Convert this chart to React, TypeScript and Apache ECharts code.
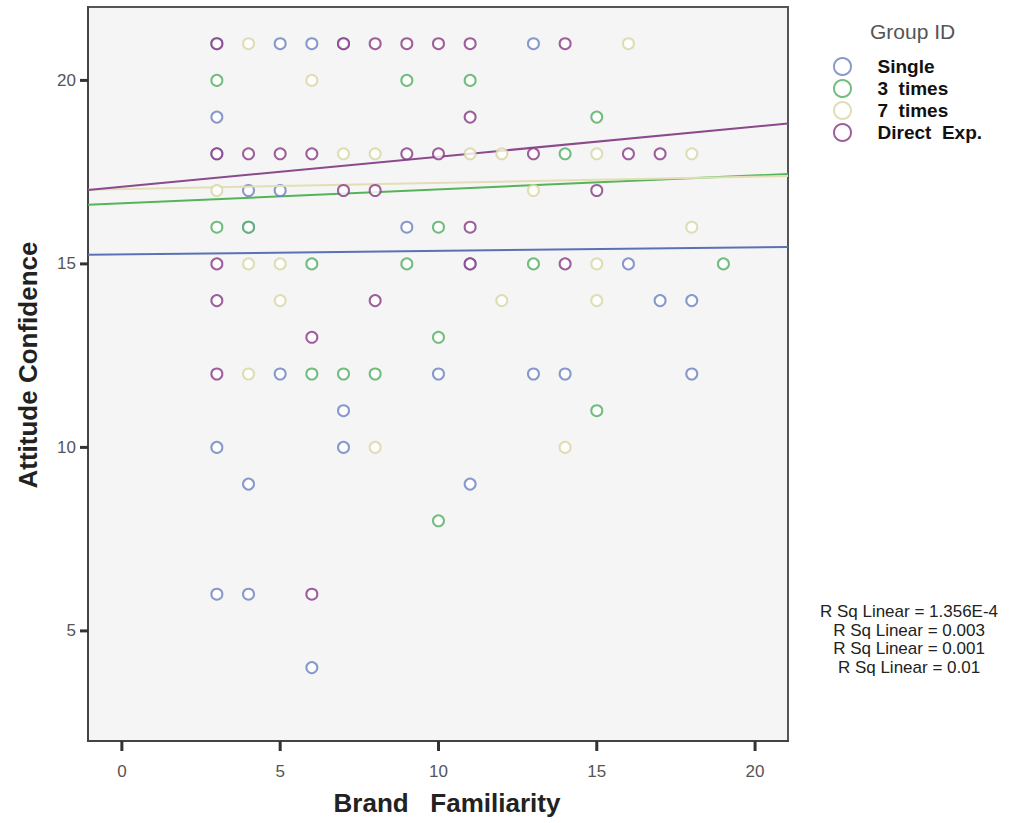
import React, { useEffect, useRef } from "react";
import * as echarts from "echarts";

const groupNames = ["Single", "3  times", "7  times", "Direct  Exp."];
const groupColors = ["#6a80bf", "#4fae5f", "#d8d6a2", "#873783"];
const lineColors = ["#5a72b5", "#55b35a", "#e2dfb6", "#8b4a8c"];

const singlePts: [number, number][] = [
  [3, 21], [5, 21], [6, 21], [7, 21], [13, 21], [3, 19], [3, 18], [4, 17], [5, 17], [4, 16], [9, 16],
  [11, 15], [16, 15], [17, 14], [18, 14], [5, 12], [10, 12], [13, 12], [14, 12], [18, 12],
  [7, 11], [3, 10], [7, 10], [4, 9], [11, 9], [3, 6], [4, 6], [6, 4],
];
const threeTimesPts: [number, number][] = [
  [3, 20], [9, 20], [11, 20], [15, 19], [14, 18], [3, 16], [4, 16], [10, 16], [6, 15], [9, 15],
  [13, 15], [19, 15], [10, 13], [6, 12], [7, 12], [8, 12], [15, 11], [10, 8],
];
const sevenTimesPts: [number, number][] = [
  [4, 21], [16, 21], [6, 20], [7, 18], [8, 18], [11, 18], [12, 18], [15, 18], [18, 18], [3, 17],
  [13, 17], [18, 16], [4, 15], [5, 15], [15, 15], [5, 14], [12, 14], [15, 14], [4, 12], [8, 10], [14, 10],
];
const directPts: [number, number][] = [
  [3, 21], [7, 21], [8, 21], [9, 21], [10, 21], [11, 21], [14, 21], [11, 19], [3, 18], [4, 18],
  [5, 18], [6, 18], [9, 18], [10, 18], [13, 18], [16, 18], [17, 18], [7, 17], [8, 17], [15, 17],
  [11, 16], [3, 15], [11, 15], [14, 15], [3, 14], [8, 14], [6, 13], [3, 12], [6, 6],
];
const groupData = [singlePts, threeTimesPts, sevenTimesPts, directPts];

// fit lines: intercept, slope
const fitIntercepts = [15.26, 16.65, 17.04, 17.1];
const fitSlopes = [0.0095, 0.038, 0.017, 0.082];
const rsqLabels = [
  "R Sq Linear = 1.356E-4",
  "R Sq Linear = 0.003",
  "R Sq Linear = 0.001",
  "R Sq Linear = 0.01",
];
const xTicks = [0, 5, 10, 15, 20];
const yTicks = [5, 10, 15, 20];
const X_MIN = -1.07;
const X_MAX = 21.04;
const Y_MIN = 2;
const Y_MAX = 22;

export default function App() {
  const ref = useRef<HTMLDivElement>(null);
  useEffect(() => {
    if (!ref.current) return;
    const chart = echarts.init(ref.current, undefined, { renderer: "svg" });
    const scatterSeries = groupData.map((pts, i) => ({
      name: groupNames[i],
      type: "scatter",
      data: pts,
      symbol: "emptyCircle",
      symbolSize: 11,
      itemStyle: { color: groupColors[i], borderColor: groupColors[i], borderWidth: 2.5 },
      z: 3 + i,
    }));
    const lineSeries = fitIntercepts.map((b, i) => ({
      name: "fit" + i,
      type: "line",
      data: [
        [X_MIN, b + fitSlopes[i] * X_MIN],
        [X_MAX, b + fitSlopes[i] * X_MAX],
      ],
      showSymbol: false,
      symbol: "none",
      lineStyle: { color: lineColors[i], width: 2 },
      z: 2 + i,
    }));
    const textGraphics = [
      {
        type: "text",
        left: 870,
        top: 21,
        style: { text: "Group ID", fontFamily: "Liberation Sans", fontSize: 21, fill: "#555" },
      },
      ...rsqLabels.map((t, i) => ({
        type: "text",
        x: 909,
        y: 603 + i * 18.7,
        style: {
          text: t,
          align: "center",
          fontFamily: "Liberation Sans",
          fontSize: 17,
          fill: "#222",
        },
      })),
    ];
    chart.setOption({
      animation: false,
      backgroundColor: "#ffffff",
      grid: {
        left: 88,
        right: 233,
        top: 7,
        bottom: 82,
        show: true,
        backgroundColor: "#f5f5f5",
        borderColor: "#555",
        borderWidth: 2,
      },
      xAxis: {
        type: "value",
        min: X_MIN,
        max: X_MAX,
        name: "Brand   Familiarity",
        nameLocation: "middle",
        nameGap: 49,
        nameTextStyle: { fontFamily: "Liberation Sans", fontWeight: "bold", fontSize: 26, color: "#222", padding: [0, 0, 0, 18] },
        splitLine: { show: false },
        axisLine: { show: true, onZero: false, lineStyle: { color: "#444", width: 2 } },
        axisTick: { show: false },
        axisLabel: { customValues: xTicks, fontFamily: "Liberation Sans", fontSize: 17, color: "#555", margin: 22 },
      },
      yAxis: {
        type: "value",
        min: Y_MIN,
        max: Y_MAX,
        name: "Attitude Confidence",
        nameLocation: "middle",
        nameGap: 47,
        nameTextStyle: { fontFamily: "Liberation Sans", fontWeight: "bold", fontSize: 26, color: "#222", padding: [0, 0, 0, 18] },
        splitLine: { show: false },
        axisLine: { show: true, onZero: false, lineStyle: { color: "#444", width: 2 } },
        axisTick: { show: false },
        axisLabel: { customValues: yTicks, fontFamily: "Liberation Sans", fontSize: 17, color: "#555", margin: 12 },
      },
      legend: {
        data: groupNames,
        orient: "vertical",
        left: 833,
        top: 57,
        padding: 0,
        itemWidth: 20,
        itemHeight: 17,
        itemGap: 3,
        textStyle: { fontFamily: "Liberation Sans", fontWeight: "bold", fontSize: 19, color: "#111", padding: [0, 0, 0, 20] },
      },
      graphic: textGraphics,
      series: [...lineSeries, ...scatterSeries],
    });
    // tick marks placed through the chart's own scales
    const xTickRects = xTicks.map((v) => {
      const p = chart.convertToPixel({ gridIndex: 0 }, [v, Y_MIN]) as number[];
      return { type: "rect", silent: true, z: 100, shape: { x: p[0] - 1.5, y: p[1], width: 3, height: 10 }, style: { fill: "#333" } };
    });
    const yTickRects = yTicks.map((v) => {
      const p = chart.convertToPixel({ gridIndex: 0 }, [X_MIN, v]) as number[];
      return { type: "rect", silent: true, z: 100, shape: { x: p[0] - 8, y: p[1] - 1.5, width: 8, height: 3 }, style: { fill: "#333" } };
    });
    chart.setOption({ graphic: [...textGraphics, ...xTickRects, ...yTickRects] }, { replaceMerge: ["graphic"] });
    return () => chart.dispose();
  }, []);
  return <div ref={ref} style={{ position: "fixed", left: 0, top: 0, width: 1021, height: 823 }} />;
}
